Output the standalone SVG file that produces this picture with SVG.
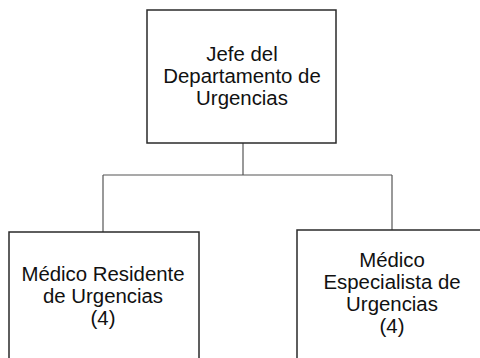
<svg xmlns="http://www.w3.org/2000/svg" width="480" height="358" viewBox="0 0 480 358">
<style>
.box{fill:#fff;stroke:#2a2a2a;stroke-width:1.5}
.conn{fill:none;stroke:#555;stroke-width:1.2}
.t{font-family:"Liberation Sans",Arial,sans-serif;font-size:20px;fill:#111;text-anchor:middle}
</style>
<rect width="480" height="358" fill="#fff"/>
<g id="connectors">
<path class="conn" d="M243,143 V175"/>
<path class="conn" d="M103,175 H392"/>
<path class="conn" d="M103,175 V232"/>
<path class="conn" d="M392,175 V230"/>
</g>
<g id="jefe">
<rect class="box" x="147" y="10" width="189" height="133"/>
<text class="t" transform="translate(242,61) scale(1.02,1)">Jefe del</text>
<text class="t" transform="translate(242,83) scale(1.02,1)">Departamento de</text>
<text class="t" transform="translate(242,105) scale(1.02,1)">Urgencias</text>
</g>
<g id="residente">
<rect class="box" x="9" y="232" width="190" height="140"/>
<text class="t" transform="translate(103,281) scale(1.02,1)">Médico Residente</text>
<text class="t" transform="translate(103,303) scale(1.02,1)">de Urgencias</text>
<text class="t" transform="translate(103,325) scale(1.02,1)">(4)</text>
</g>
<g id="especialista">
<rect class="box" x="297" y="230" width="200" height="140"/>
<text class="t" transform="translate(392,267) scale(1.02,1)">Médico</text>
<text class="t" transform="translate(392,289) scale(1.02,1)">Especialista de</text>
<text class="t" transform="translate(392,311) scale(1.02,1)">Urgencias</text>
<text class="t" transform="translate(392,333) scale(1.02,1)">(4)</text>
</g>
</svg>
